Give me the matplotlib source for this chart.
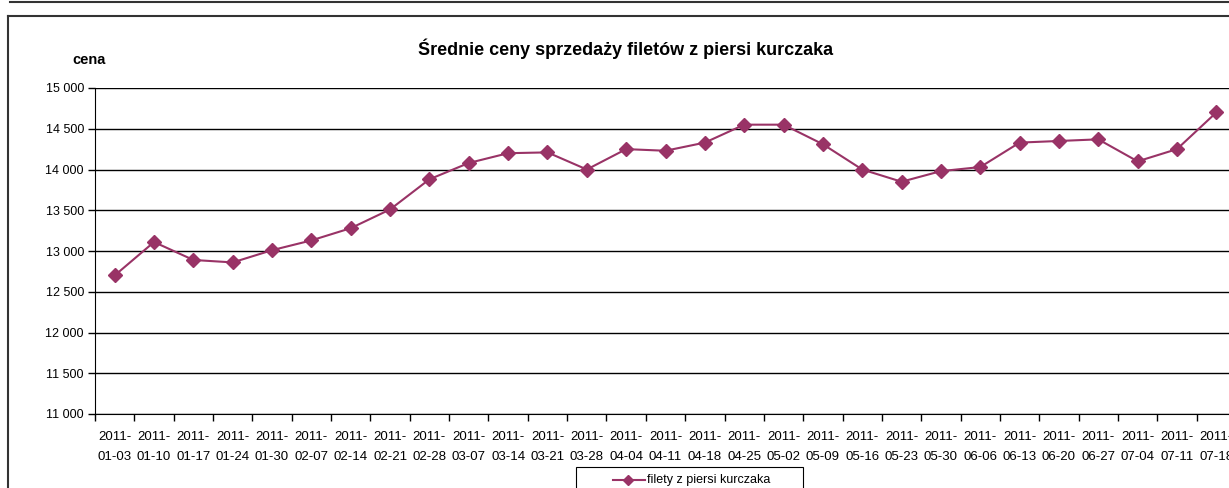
import matplotlib
matplotlib.use('Agg')
import matplotlib.pyplot as plt
from matplotlib.lines import Line2D
from matplotlib.patches import Rectangle

plt.rcParams['font.family'] = ['Liberation Sans', 'DejaVu Sans']

dates = ['2011-\n01-03', '2011-\n01-10', '2011-\n01-17', '2011-\n01-24', '2011-\n01-30',
         '2011-\n02-07', '2011-\n02-14', '2011-\n02-21', '2011-\n02-28', '2011-\n03-07',
         '2011-\n03-14', '2011-\n03-21', '2011-\n03-28', '2011-\n04-04', '2011-\n04-11',
         '2011-\n04-18', '2011-\n04-25', '2011-\n05-02', '2011-\n05-09', '2011-\n05-16',
         '2011-\n05-23', '2011-\n05-30', '2011-\n06-06', '2011-\n06-13', '2011-\n06-20',
         '2011-\n06-27', '2011-\n07-04', '2011-\n07-11', '2011-\n07-18']
prices = [12700, 13110, 12890, 12860, 13010, 13130, 13280, 13510, 13880, 14080,
          14200, 14210, 14000, 14250, 14230, 14330, 14550, 14550, 14310, 14000,
          13850, 13980, 14030, 14330, 14350, 14370, 14100, 14250, 14700]
yticks = [11000, 11500, 12000, 12500, 13000, 13500, 14000, 14500, 15000]
ytick_labels = ['11 000', '11 500', '12 000', '12 500', '13 000', '13 500', '14 000', '14 500', '15 000']

W, H = 1229, 488
fig = plt.figure(figsize=(W / 100, H / 100), dpi=100)

# plot area in pixels: left 95, right 1236 (clipped), top 88, bottom 414
ax = fig.add_axes([95 / W, 1 - 414 / H, (1236 - 95) / W, (414 - 88) / H])

color = '#993366'
n = len(prices)
x = list(range(n))
ax.plot(x, prices, color=color, lw=1.5, marker='D', ms=7.5, zorder=3, clip_on=False)

ax.set_xlim(-0.5, n - 0.5)
ax.set_ylim(11000, 15000)
ax.set_yticks(yticks)
ax.set_yticklabels(ytick_labels, fontsize=9)
ax.set_xticks(x)
ax.set_xticklabels(dates, fontsize=9.5, linespacing=1.9)
ax.tick_params(axis='x', length=0, pad=12)
ax.set_xticks([i - 0.5 for i in range(n + 1)], minor=True)
ax.tick_params(axis='x', which='minor', length=5, width=1, direction='out')
ax.tick_params(axis='y', length=5, width=1, direction='out', pad=3)

ax.grid(axis='y', color='black', lw=1)
ax.set_axisbelow(True)
for s in ['top', 'right']:
    ax.spines[s].set_visible(False)
ax.spines['left'].set_color('black')
ax.spines['bottom'].set_color('black')

fig.text(626 / W, 1 - 49 / H, 'Średnie ceny sprzedaży filetów z piersi kurczaka',
         ha='center', va='center', fontsize=13, fontweight='bold')
fig.text(89 / W, 1 - 60 / H, 'cena', ha='center', va='center', fontsize=10.5,
         fontweight='bold')

# outer frames
fig.add_artist(Line2D([8 / W, 8 / W], [0, 1 - 16 / H], color='#333333', lw=1.5,
                      transform=fig.transFigure))
fig.add_artist(Line2D([8 / W, 1], [1 - 16 / H, 1 - 16 / H], color='#333333', lw=1.5,
                      transform=fig.transFigure))
fig.add_artist(Line2D([10 / W, 1], [1 - 1.5 / H, 1 - 1.5 / H], color='#333333', lw=1.5,
                      transform=fig.transFigure))

# legend box (cut off at the bottom)
fig.add_artist(Rectangle((576 / W, -0.02), (803 - 576) / W, 0.02 + (488 - 467) / H,
                         fill=False, edgecolor='black', lw=0.8, transform=fig.transFigure))
ly = 1 - 480 / H
fig.add_artist(Line2D([613 / W, 645 / W], [ly, ly], color=color, lw=1.5,
                      transform=fig.transFigure))
fig.add_artist(Line2D([628 / W], [ly], color=color, marker='D', ms=5,
                      transform=fig.transFigure))
fig.text(647 / W, ly, 'filety z piersi kurczaka', ha='left', va='center', fontsize=9)

fig.savefig('out.png', dpi=100)
